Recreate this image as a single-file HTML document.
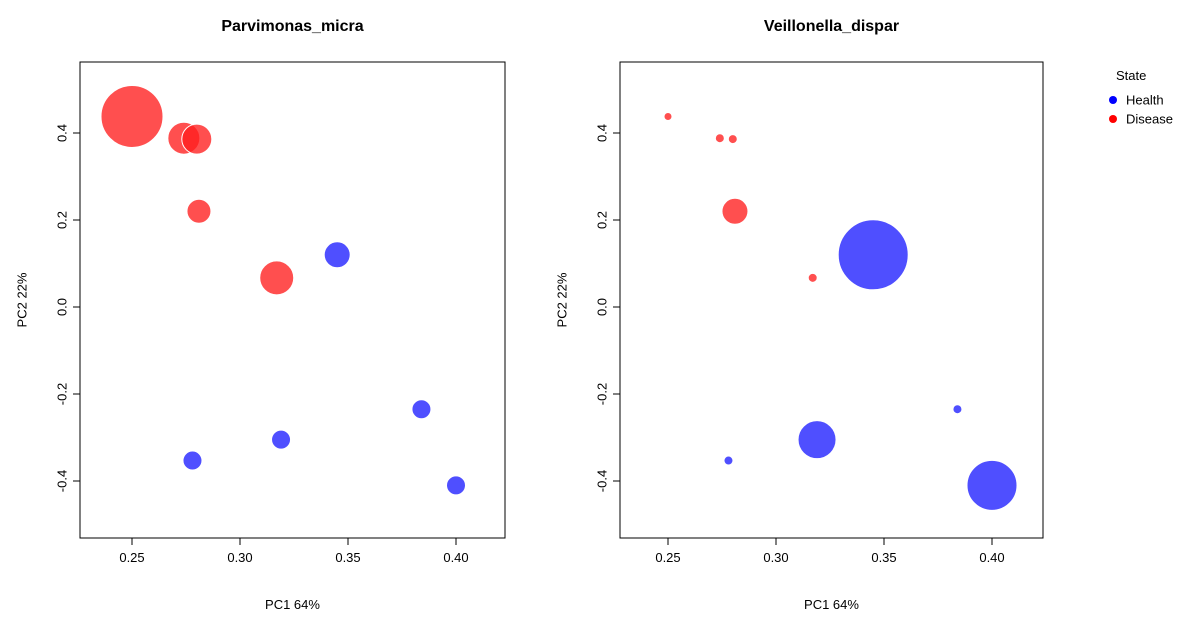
<!DOCTYPE html>
<html><head><meta charset="utf-8"><style>
body{margin:0;background:#fff}
svg text{font-family:"Liberation Sans",Arial,sans-serif}
</style></head><body>
<svg id="chart" width="1200" height="622" xmlns="http://www.w3.org/2000/svg"></svg>
<script>
const pc1 = [0.250, 0.274, 0.280, 0.281, 0.317, 0.345, 0.384, 0.319, 0.278, 0.400];
const pc2 = [0.438, 0.388, 0.386, 0.220, 0.067, 0.120, -0.235, -0.305, -0.353, -0.410];
const state = ["Disease","Disease","Disease","Disease","Disease","Health","Health","Health","Health","Health"];
const sizeParvimonas = [31, 16, 15, 12, 17, 13, 9.5, 9.5, 9.5, 9.5];
const sizeVeillonella = [4, 4.5, 4.5, 13, 4.5, 35, 4.5, 19, 4.5, 25];
const xTicks = [0.25, 0.30, 0.35, 0.40];
const xTickLabels = ["0.25","0.30","0.35","0.40"];
const yTicks = [-0.4, -0.2, 0.0, 0.2, 0.4];
const yTickLabels = ["-0.4","-0.2","0.0","0.2","0.4"];
const titles = ["Parvimonas_micra","Veillonella_dispar"];

const svg = document.getElementById('chart');
const NS = "http://www.w3.org/2000/svg";
function mk(tag, attrs, parent){const e=document.createElementNS(NS,tag);for(const k in attrs)e.setAttribute(k,attrs[k]);(parent||svg).appendChild(e);return e;}
const colors = {Health:"rgba(30,30,255,0.78)", Disease:"rgba(255,30,30,0.78)"};
const panels = [{x0:80,x1:505,xs:132,sizes:sizeParvimonas},{x0:620,x1:1043,xs:668,sizes:sizeVeillonella}];
const yTop=62, yBot=538;
const xScale=(p,v)=>p.xs+(v-0.25)*2160;
const yScale=v=>307-v*435;

panels.forEach((p,pi)=>{
  const g=mk('g',{});
  
  
  const box=mk('rect',{x:p.x0,y:yTop,width:p.x1-p.x0,height:yBot-yTop,fill:'none',stroke:'#000','stroke-width':1},g);
  
  
  const t=mk('text',{x:(p.x0+p.x1)/2,y:31,'text-anchor':'middle','font-size':16,'font-weight':'bold'},g);
  t.textContent=titles[pi];
  
  
  xTicks.forEach((v,i)=>{
    const x=xScale(p,v);
    mk('line',{x1:x,x2:x,y1:yBot,y2:yBot+7,stroke:'#000'},g);
    const tl=mk('text',{x:x,y:yBot+24,'text-anchor':'middle','font-size':13},g);
    tl.textContent=xTickLabels[i];
    
    
  });
  yTicks.forEach((v,i)=>{
    const y=yScale(v);
    mk('line',{x1:p.x0-7,x2:p.x0,y1:y,y2:y,stroke:'#000'},g);
    const tl=mk('text',{x:p.x0-18,y:y,'text-anchor':'middle','font-size':13,transform:`rotate(-90 ${p.x0-18} ${y})`,'dominant-baseline':'central'},g);
    tl.textContent=yTickLabels[i];
    
    
  });
  const xl=mk('text',{x:(p.x0+p.x1)/2,y:609,'text-anchor':'middle','font-size':13},g);
  xl.textContent='PC1 64%';
  
  
  const yx=p.x0-58, yy=(yTop+yBot)/2;
  const yl=mk('text',{x:yx,y:yy,'text-anchor':'middle','font-size':13,transform:`rotate(-90 ${yx} ${yy})`,'dominant-baseline':'central'},g);
  yl.textContent='PC2 22%';
  
  
  pc1.forEach((v,i)=>{
    const c=mk('circle',{cx:xScale(p,v),cy:yScale(pc2[i]),r:p.sizes[i],fill:colors[state[i]],stroke:'#fff','stroke-width':1},g);
    
    
  });
});
</script>
<g></g>
<svg style="position:absolute;left:0;top:0" width="1200" height="622">
  <text x="1116" y="80" font-size="13" font-family="Liberation Sans, sans-serif">State</text>
  <circle cx="1113" cy="100" r="4" fill="#0000ff"/>
  <text x="1126" y="104.5" font-size="13" font-family="Liberation Sans, sans-serif">Health</text>
  <circle cx="1113" cy="119" r="4" fill="#ff0000"/>
  <text x="1126" y="123.5" font-size="13" font-family="Liberation Sans, sans-serif">Disease</text>
</svg>
</body></html>
